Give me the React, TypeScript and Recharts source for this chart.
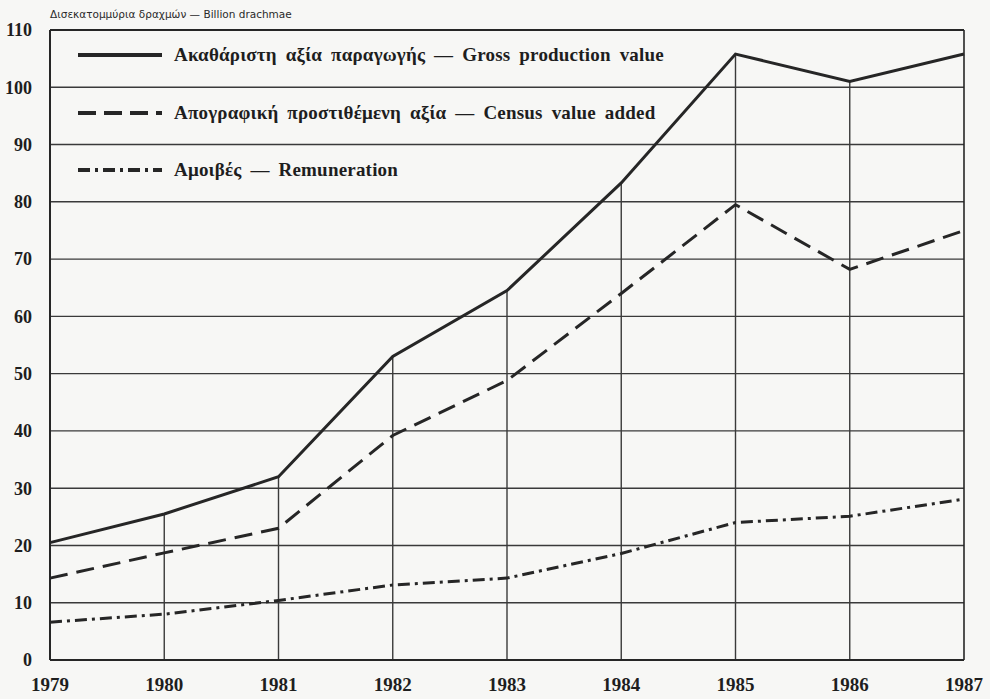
import React from "react";
import {
  LineChart,
  Line,
  XAxis,
  YAxis,
  CartesianGrid,
  ReferenceLine,
} from "recharts";

const years = [1979, 1980, 1981, 1982, 1983, 1984, 1985, 1986, 1987];
const gross = [20.5, 25.5, 32, 53, 64.5, 83.3, 105.8, 101, 105.8];
const census = [14.3, 18.7, 23, 39.2, 48.8, 64, 79.5, 68.2, 75];
const remuneration = [6.6, 8.0, 10.4, 13.1, 14.3, 18.6, 24, 25.1, 28.1];
const yTicks = [0, 10, 20, 30, 40, 50, 60, 70, 80, 90, 100, 110];

const title = "Δισεκατομμύρια δραχμών — Billion drachmae";
const legendItems = [
  { label: "Ακαθάριστη αξία παραγωγής — Gross production value", dash: undefined },
  { label: "Απογραφική προστιθέμενη αξία — Census value added", dash: "18 8" },
  { label: "Αμοιβές — Remuneration", dash: "12 5 3 5" },
];

const data = years.map((year, i) => ({
  year,
  gross: gross[i],
  census: census[i],
  remuneration: remuneration[i],
}));

const INK = "#262626";
const GRID = "#3a3a3a";
const serif = "'Liberation Serif', 'DejaVu Serif', serif";

export default function App() {
  return (
    <div
      style={{
        position: "absolute",
        left: 0,
        top: 0,
        width: 990,
        height: 699,
        background: "#f7f7f5",
        overflow: "hidden",
      }}
    >
      <div
        style={{
          position: "absolute",
          left: 50,
          top: 8,
          fontFamily: "'DejaVu Sans', sans-serif",
          fontSize: 10.5,
          color: "#2a2a2a",
          whiteSpace: "nowrap",
        }}
      >
        {title}
      </div>

      <LineChart
        width={990}
        height={699}
        data={data}
        margin={{ top: 30, right: 26, left: 10, bottom: 0 }}
      >
        <CartesianGrid vertical={false} stroke={GRID} strokeWidth={1.4} />
        <XAxis
          dataKey="year"
          type="number"
          domain={[1979, 1987]}
          ticks={years}
          height={39}
          axisLine={{ stroke: INK, strokeWidth: 2 }}
          tickLine={false}
          tickMargin={12}
          tick={{ fontFamily: serif, fontWeight: 700, fontSize: 19, fill: "#1e1e1e" }}
        />
        <YAxis
          type="number"
          domain={[0, 110]}
          ticks={yTicks}
          width={40}
          axisLine={{ stroke: INK, strokeWidth: 2 }}
          tickLine={false}
          tickMargin={12}
          tick={{ fontFamily: serif, fontWeight: 700, fontSize: 18, fill: "#1e1e1e" }}
        />
        <ReferenceLine y={110} stroke={INK} strokeWidth={2} />
        <ReferenceLine x={1987} stroke={INK} strokeWidth={1.6} />
        {years.slice(1, -1).map((year, i) => (
          <ReferenceLine
            key={year}
            segment={[
              { x: year, y: 0 },
              { x: year, y: gross[i + 1] },
            ]}
            stroke={GRID}
            strokeWidth={1.4}
          />
        ))}
        <Line
          type="linear"
          dataKey="gross"
          stroke={INK}
          strokeWidth={3}
          dot={false}
          isAnimationActive={false}
        />
        <Line
          type="linear"
          dataKey="census"
          stroke={INK}
          strokeWidth={3}
          strokeDasharray="18 9"
          dot={false}
          isAnimationActive={false}
        />
        <Line
          type="linear"
          dataKey="remuneration"
          stroke={INK}
          strokeWidth={3}
          strokeDasharray="12 5 3 5"
          dot={false}
          isAnimationActive={false}
        />
      </LineChart>

      {legendItems.map((item, i) => (
        <div
          key={item.label}
          style={{
            position: "absolute",
            left: 78,
            top: 43 + i * 57.5,
            height: 24,
            display: "flex",
            alignItems: "center",
            whiteSpace: "nowrap",
          }}
        >
          <svg width={86} height={24}>
            <line
              x1={0}
              y1={12}
              x2={84}
              y2={12}
              stroke={INK}
              strokeWidth={4}
              strokeDasharray={item.dash}
            />
          </svg>
          <span
            style={{
              marginLeft: 10,
              fontFamily: serif,
              fontWeight: 700,
              fontSize: 19,
              letterSpacing: 0.2,
              wordSpacing: 4,
              color: "#1e1e1e",
            }}
          >
            {item.label}
          </span>
        </div>
      ))}
    </div>
  );
}
